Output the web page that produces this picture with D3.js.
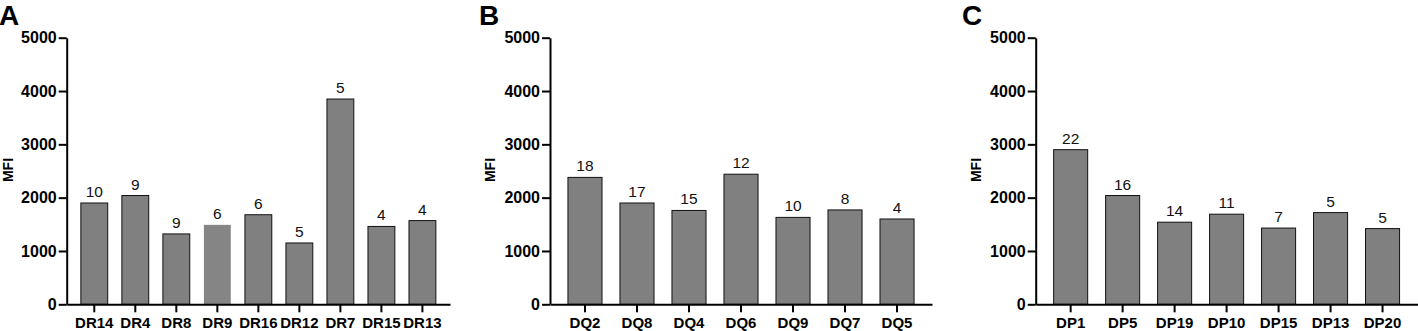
<!DOCTYPE html>
<html lang="en">
  <head>
    <meta charset="utf-8">
    <title>MFI bar panels</title>
    <script src="https://cdn.jsdelivr.net/npm/d3@7"></script>
    <style>
      body { margin: 0; background: #fff; }
      svg text { font-family: "Liberation Sans", Arial, sans-serif; }
      .axis path, .axis line { stroke: #000; stroke-width: 2; }
      .axis text { font-size: 15px; font-weight: bold; fill: #000; }
      .yaxis text { font-size: 16px; }
    </style>
  </head>
  <body>
    <div id="svg-area"></div>
    <script>
      const svg_width = 1418;
      const svg_height = 331;

      // panel A
      const catsA = ['DR14','DR4','DR8','DR9','DR16','DR12','DR7','DR15','DR13'];
      const mfiA = [1900, 2040, 1320, 1490, 1680, 1150, 3850, 1460, 1570];
      const countA = [10, 9, 9, 6, 6, 5, 5, 4, 4];

      // panel B
      const catsB = ['DQ2','DQ8','DQ4','DQ6','DQ9','DQ7','DQ5'];
      const mfiB = [2380, 1900, 1760, 2440, 1630, 1770, 1600];
      const countB = [18, 17, 15, 12, 10, 8, 4];

      // panel C
      const catsC = ['DP1','DP5','DP19','DP10','DP15','DP13','DP20'];
      const mfiC = [2900, 2040, 1540, 1690, 1430, 1720, 1420];
      const countC = [22, 16, 14, 11, 7, 5, 5];

      const yTicks = [0, 1000, 2000, 3000, 4000, 5000];
      const top_y = 37.7;
      const bottom_y = 304.3;

      const svg = d3.select('#svg-area')
        .append('svg')
        .attr('width', svg_width)
        .attr('height', svg_height);

      const draw_panel = function(letter, cats, vals, counts, left, right, letterX, mfiX){
        const g = svg.append('g');

        const x_scale = d3.scaleBand()
          .domain(cats)
          .range([left, right])
          .paddingInner(0.345)
          .paddingOuter(0.345);

        const y_scale = d3.scaleLinear()
          .domain([0, 5000])
          .range([bottom_y, top_y]);

        const rows = cats.map((c, i) => ({cat: c, val: vals[i], n: counts[i]}));

        //bars
        g.selectAll('rect')
          .data(rows)
          .enter()
          .append('rect')
          .attr('x', d => x_scale(d.cat))
          .attr('y', d => y_scale(d.val))
          .attr('width', x_scale.bandwidth())
          .attr('height', d => y_scale(0) - y_scale(d.val))
          .attr('fill', d => d.cat === 'DR9' ? '#858585' : '#808080')
          .attr('stroke', d => d.cat === 'DR9' ? 'none' : '#111')
          .attr('stroke-width', 1);

        //count labels
        g.selectAll('text.count')
          .data(rows)
          .enter()
          .append('text')
          .attr('class', 'count')
          .attr('x', d => x_scale(d.cat) + x_scale.bandwidth() / 2)
          .attr('y', d => y_scale(d.val) - 6)
          .attr('text-anchor', 'middle')
          .attr('font-size', 15.5)
          .attr('fill', '#111')
          .text(d => d.n);

        //axes
        g.append('g')
          .attr('class', 'axis yaxis')
          .attr('transform', `translate(${left},0)`)
          .call(d3.axisLeft(y_scale).tickValues(yTicks).tickSize(8).tickSizeOuter(0).tickPadding(2).tickFormat(d3.format('d')));

        g.append('g')
          .attr('class', 'axis')
          .attr('transform', `translate(0,${bottom_y})`)
          .call(d3.axisBottom(x_scale).tickSize(8).tickSizeOuter(0).tickPadding(5));

        //y title
        g.append('text')
          .attr('transform', `translate(${mfiX},170) rotate(-90)`)
          .attr('text-anchor', 'middle')
          .attr('font-size', 14)
          .attr('font-weight', 'bold')
          .text('MFI');

        //panel letter
        g.append('text')
          .attr('x', letterX)
          .attr('y', 25)
          .attr('font-size', 28)
          .attr('font-weight', 'bold')
          .text(letter);
      };

      draw_panel('A', catsA, mfiA, countA, 66.7, 450, -1, 13);
      draw_panel('B', catsB, mfiB, countB, 550, 932, 479, 495);
      draw_panel('C', catsC, mfiC, countC, 1035.7, 1417.5, 962, 981);
    </script>
  </body>
</html>
